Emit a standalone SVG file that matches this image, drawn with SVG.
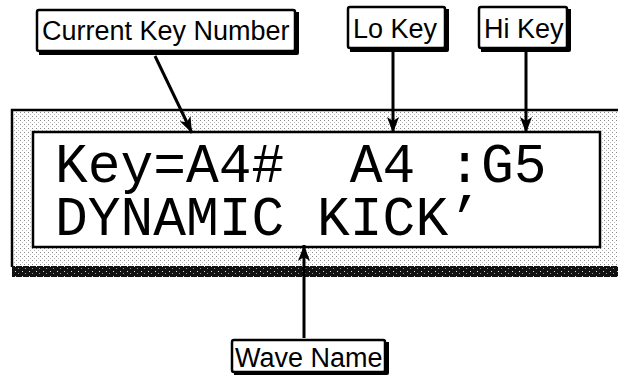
<svg xmlns="http://www.w3.org/2000/svg" width="618" height="375" viewBox="0 0 618 375">
<style>
.lbl{fill:#fff;stroke:#000;stroke-width:2.5}
.shd{fill:none;stroke:#000;stroke-width:4;stroke-linejoin:round}
.lt{font-family:"Liberation Sans",Arial,sans-serif;font-size:27px;fill:#000}
.lcd{font-family:"Liberation Mono","DejaVu Sans Mono",monospace;font-size:54.6px;fill:#000}
.con{stroke:#000;stroke-width:3;fill:none}
</style>
<defs>
<pattern id="stip" width="4" height="4" patternUnits="userSpaceOnUse">
<rect width="4" height="4" fill="#fff"/>
<rect x="0" y="0" width="1" height="1" fill="#888"/>
<rect x="2" y="2" width="1" height="1" fill="#bbb"/>
</pattern>
<pattern id="speck" width="7" height="5" patternUnits="userSpaceOnUse">
<rect width="7" height="5" fill="#111"/>
<rect x="1" y="1" width="1" height="1" fill="#ddd"/>
<rect x="4" y="3" width="1" height="1" fill="#999"/>
</pattern>
<marker id="ah" viewBox="0 0 16 12" refX="16" refY="6" markerWidth="16" markerHeight="12" markerUnits="userSpaceOnUse" orient="auto">
<path d="M0,0 L16,6 L0,12 L4,6 Z" fill="#000"/>
</marker>
</defs>

<g id="display">
<rect x="12" y="110" width="606" height="157" fill="url(#stip)"/>
<path d="M12,267 V110 H618" fill="none" stroke="#000" stroke-width="2.5"/>
<rect x="12" y="266" width="606" height="11" fill="url(#speck)"/>
<rect x="33" y="132" width="567" height="115" fill="#fff" stroke="#000" stroke-width="2.5"/>
<text class="lcd" x="55" y="182" xml:space="preserve">Key=A4#  A4 :G5</text>
<text class="lcd" x="55" y="235" xml:space="preserve">DYNAMIC KICK’</text>
</g>

<g id="label-current">
<rect class="lbl" x="37" y="10" width="258" height="41" rx="2"/>
<path class="shd" d="M297,12 V53 H39"/>
<text class="lt" x="42" y="40">Current Key Number</text>
</g>

<g id="label-lo">
<rect class="lbl" x="348" y="7" width="97" height="41" rx="2"/>
<path class="shd" d="M447,9 V50 H350"/>
<text class="lt" x="353" y="38">Lo Key</text>
</g>

<g id="label-hi">
<rect class="lbl" x="479" y="7" width="88" height="41" rx="2"/>
<path class="shd" d="M569,9 V50 H481"/>
<text class="lt" x="484" y="38">Hi Key</text>
</g>

<g id="label-wave">
<rect class="lbl" x="232" y="340" width="153" height="32" rx="2"/>
<path class="shd" d="M387,342 V373 H234"/>
<text class="lt" x="235" y="367">Wave Name</text>
</g>

<g id="connectors">
<line class="con" x1="155" y1="56" x2="192" y2="133" marker-end="url(#ah)"/>
<line class="con" x1="393" y1="52" x2="393" y2="133" marker-end="url(#ah)"/>
<line class="con" x1="526" y1="52" x2="526" y2="133" marker-end="url(#ah)"/>
<line class="con" x1="304" y1="338" x2="304" y2="245" marker-end="url(#ah)"/>
</g>
</svg>
